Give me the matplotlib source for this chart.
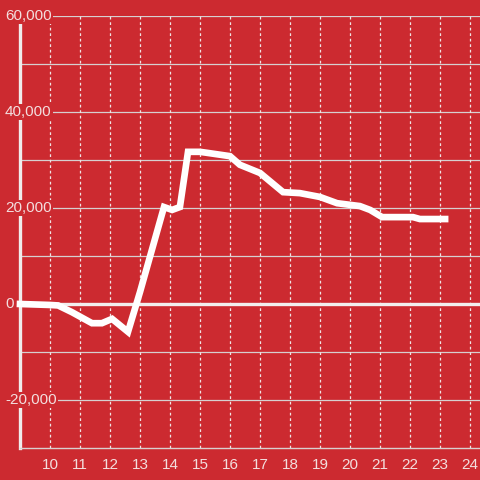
import matplotlib
matplotlib.use("Agg")
import matplotlib.pyplot as plt

# data
xs = [9.0, 10.0, 10.27, 10.73, 11.4, 11.73, 12.07, 12.6, 13.0, 13.8, 14.07, 14.33,
      14.6, 15.0, 15.23, 16.0, 16.33, 17.0, 17.77, 18.33, 19.0, 19.57, 20.33, 20.67,
      21.07, 22.1, 22.33, 23.17]
vals = [0, -200, -300, -1700, -4000, -4000, -3100, -5800, 2500, 20200, 19600, 20200,
        31700, 31700, 31500, 30800, 29000, 27300, 23300, 23100, 22300, 21000, 20400, 19600,
        18100, 18100, 17700, 17700]

xticks = list(range(10, 25))
yticks = [-20000, 0, 20000, 40000, 60000]
ylabels = ["-20,000", "0", "20,000", "40,000", "60,000"]

bg = "#cc2a30"
txt = "#f3dede"

plt.rcParams['font.family'] = ['Liberation Sans', 'DejaVu Sans']

fig = plt.figure(figsize=(4.8, 4.8), dpi=100)
fig.patch.set_facecolor(bg)
ax = fig.add_axes([20/480, 32/480, 460/480, 432/480])
ax.set_facecolor(bg)
ax.set_xlim(9.0, 24.333)
ax.set_ylim(-30000, 60000)

for s in ['top', 'right']:
    ax.spines[s].set_visible(False)
ax.spines['left'].set_color('#f0ecec')
ax.spines['left'].set_linewidth(2.4)
ax.spines['bottom'].set_color('#d8d0d0')
ax.spines['bottom'].set_linewidth(1.0)

# horizontal grid every 10,000
for v in range(-20000, 60001, 10000):
    if v == 0:
        continue
    ax.axhline(v, color='#d6d0d0', lw=0.9, zorder=1)
ax.axhline(0, color='#f2eeee', lw=2.4, zorder=1.5)

# vertical dotted grid
for xv in xticks:
    ax.axvline(xv, color='#f0e4e4', lw=0.9, ls=(0, (2.2, 2.2)), zorder=1)

ax.plot(xs, vals, color='white', lw=4.8, solid_joinstyle='miter', zorder=3, clip_on=False)

ax.set_xticks(xticks)
ax.set_xticklabels([str(t) for t in xticks], color=txt, fontsize=11)
ax.tick_params(axis='x', length=0, pad=7)
ax.set_yticks([])

for v, lab in zip(yticks, ylabels):
    ax.text(-15/460, v, lab, transform=ax.get_yaxis_transform(), ha='left', va='center',
            color=txt, fontsize=11, zorder=4,
            bbox=dict(facecolor=bg, edgecolor='none', pad=1.0))

fig.savefig("out.png", dpi=100, facecolor=bg)
